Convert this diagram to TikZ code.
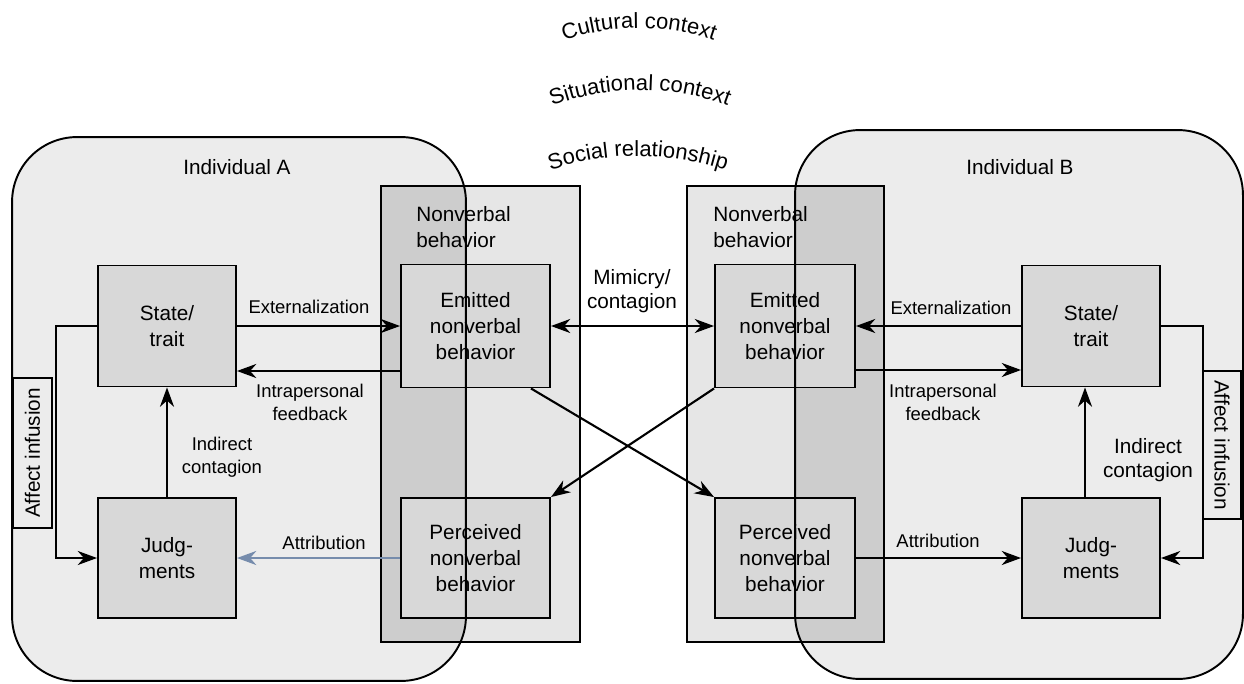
\documentclass[tikz,border=0pt]{standalone}
\usepackage{fontspec}
\setmainfont{Liberation Sans}
\usetikzlibrary{arrows.meta,decorations.text}
\definecolor{bggray}{HTML}{ECECEC}
\definecolor{nvgray}{HTML}{E6E6E6}
\definecolor{ovlgray}{HTML}{CDCDCD}
\definecolor{boxgray}{HTML}{D8D8D8}
\definecolor{attrblue}{RGB}{118,140,172}
\begin{document}
\begin{tikzpicture}[x=0.02cm,y=0.02cm,
  every node/.style={font=\fontsize{11.8}{14.7}\selectfont},
  box/.style={draw,line width=1.1pt,fill=boxgray,align=center,inner sep=0pt},
  lbl/.style={font=\fontsize{10.5}{13}\selectfont,align=center},
  biglbl/.style={font=\fontsize{11.8}{14}\selectfont,align=center},
  area/.style={inner sep=0pt,outer sep=0pt},
  >={Stealth[length=11pt,width=8pt,inset=3.5pt]},
  arr/.style={line width=1.2pt,->},
  ctx/.style={decorate,decoration={text along path,text align=center,text={|\fontsize{12.5}{15}\selectfont|#1}}}]
\useasboundingbox (0,0) rectangle (1244,-683);
% contexts
\path[ctx=Cultural context] ([shift={(122:4.6cm)}]639,-258) arc[start angle=122,end angle=58,radius=4.6cm];
\path[ctx=Situational context] ([shift={(120:5cm)}]640,-340) arc[start angle=120,end angle=60,radius=5cm];
\path[ctx=Social relationship] ([shift={(117:5.6cm)}]638,-436) arc[start angle=117,end angle=63,radius=5.6cm];
% individuals and nonverbal areas
\node[area,fill=bggray,rounded corners=1.3cm,minimum width=9.08cm,minimum height=10.88cm] (indA) at (239,-409) {};
\node[area,fill=bggray,rounded corners=1.3cm,minimum width=8.96cm,minimum height=10.98cm] (indB) at (1019,-404.5) {};
\node[area,fill=nvgray,minimum width=3.98cm,minimum height=9.12cm] (nvA) at (480.5,-414) {};
\node[area,fill=nvgray,minimum width=3.94cm,minimum height=9.12cm] (nvB) at (785.5,-414) {};
\begin{scope}
\clip[rounded corners=1.3cm] (indA.north west) rectangle (indA.south east);
\fill[ovlgray] (nvA.north west) rectangle (nvA.south east);
\end{scope}
\begin{scope}
\clip[rounded corners=1.3cm] (indB.north west) rectangle (indB.south east);
\fill[ovlgray] (nvB.north west) rectangle (nvB.south east);
\end{scope}
\draw[line width=1pt] (nvA.north west) rectangle (nvA.south east);
\draw[line width=1pt] (nvB.north west) rectangle (nvB.south east);
% boxes
\node[box,minimum width=2.76cm,minimum height=2.42cm] (stateA) at (167,-326) {State/\\trait};
\node[box,minimum width=2.76cm,minimum height=2.4cm] (judgA) at (167,-558) {Judg-\\ments};
\node[box,minimum width=2.98cm,minimum height=2.46cm] (emitA) at (475.5,-326) {Emitted\\nonverbal\\behavior};
\node[box,minimum width=2.98cm,minimum height=2.4cm] (percA) at (475.5,-558) {Perceived\\nonverbal\\behavior};
\node[box,minimum width=2.8cm,minimum height=2.46cm] (emitB) at (785,-326) {Emitted\\nonverbal\\behavior};
\node[box,minimum width=2.8cm,minimum height=2.4cm] (percB) at (785,-558) {Perceived\\nonverbal\\behavior};
\node[box,minimum width=2.76cm,minimum height=2.42cm] (stateB) at (1091,-326) {State/\\trait};
\node[box,minimum width=2.76cm,minimum height=2.4cm] (judgB) at (1091,-558) {Judg-\\ments};
\node[draw,line width=1.1pt,inner sep=0pt,rotate=90,minimum width=3cm,minimum height=0.78cm] (affA) at (32.5,-453) {Affect infusion};
\node[draw,line width=1.1pt,inner sep=0pt,rotate=-90,minimum width=2.96cm,minimum height=0.76cm] (affB) at (1222,-445) {Affect infusion};
\draw[line width=1.1pt,rounded corners=1.3cm] (indA.north west) rectangle (indA.south east);
\draw[line width=1.1pt,rounded corners=1.3cm] (indB.north west) rectangle (indB.south east);
% titles
\node (indAlbl) at (237,-167) {Individual A};
\node (indBlbl) at (1020,-167) {Individual B};
\node[anchor=west,align=left,inner sep=0pt] (nvAlbl) at (416,-227) {Nonverbal\\behavior};
\node[anchor=west,align=left,inner sep=0pt] (nvBlbl) at (713,-227) {Nonverbal\\behavior};
% arrows A
\draw[arr] (stateA.east) -- (emitA.west);
\draw[arr] ([yshift=-0.9cm]emitA.west) -- ([yshift=-0.9cm]stateA.east);
\draw[arr] (judgA.north) -- (stateA.south);
\draw[arr] (stateA.west) -- ++(-0.82cm,0) |- (judgA.west);
\draw[arr,attrblue] (percA.west) -- (judgA.east);
% between
\draw[line width=1.2pt,<->] (emitA.east) -- (emitB.west);
\draw[arr] ([xshift=-0.4cm]emitA.south east) -- (percB.north west);
\draw[arr] (emitB.south west) -- (percA.north east);
% arrows B
\draw[arr] (stateB.west) -- (emitB.east);
\draw[arr] ([yshift=-0.88cm]emitB.east) -- ([yshift=-0.88cm]stateB.west);
\draw[arr] ([xshift=-0.12cm]judgB.north) -- ([xshift=-0.12cm]stateB.south);
\draw[arr] (stateB.east) -- ++(0.84cm,0) |- (judgB.east);
\draw[arr] (percB.east) -- (judgB.west);
% labels
\node[lbl] (extA) at (309,-307) {Externalization};
\node[lbl] (fbA) at (310,-402) {Intrapersonal\\feedback};
\node[lbl] (indcA) at (222,-457) {Indirect\\contagion};
\node[lbl] (attrA) at (324,-543) {Attribution};
\node[biglbl] (mim) at (632,-291) {Mimicry/\\contagion};
\node[lbl] (extB) at (951,-308) {Externalization};
\node[lbl] (fbB) at (943,-402) {Intrapersonal\\feedback};
\node[biglbl] (indcB) at (1148,-460) {Indirect\\contagion};
\node[lbl] (attrB) at (938,-541) {Attribution};
\end{tikzpicture}
\end{document}
